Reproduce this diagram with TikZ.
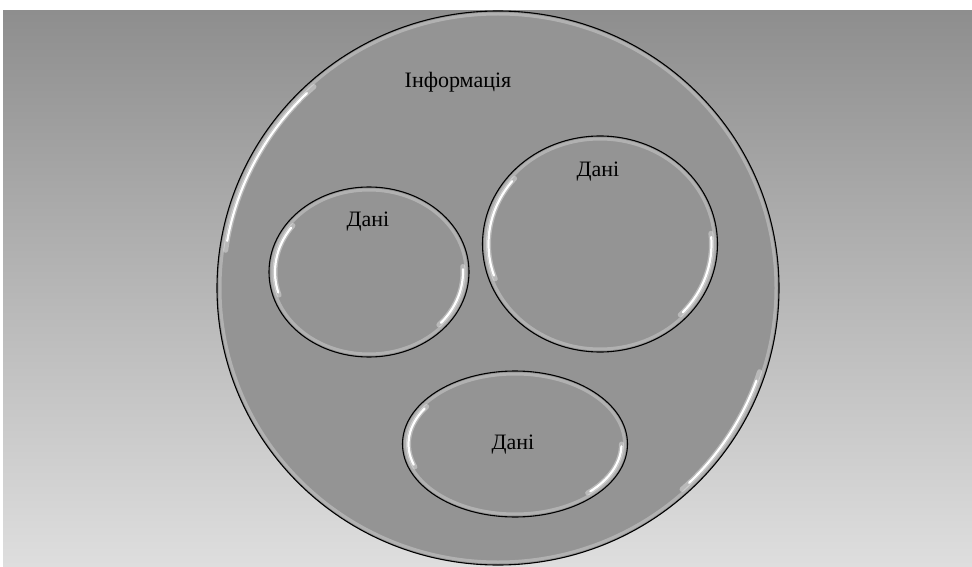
\documentclass[tikz,border=0pt]{standalone}
\usepackage{fontspec}
\setmainfont{Liberation Serif}
\usetikzlibrary{shapes.geometric}
\definecolor{bgtop}{HTML}{8E8E8E}
\definecolor{bgbottom}{HTML}{DEDEDE}
\definecolor{bubblefill}{HTML}{949494}
\definecolor{rimgray}{HTML}{BEBEBE}
\tikzset{
  bubble/.style={ellipse, draw=black, line width=1.1pt, fill=bubblefill, inner sep=0pt},
  rim/.style={draw=rimgray, line width=3pt, opacity=0.7},
  glow/.style={draw=white, line width=5pt, line cap=round, opacity=0.35},
  shine/.style={draw=white, line width=2.2pt, line cap=round},
  caption/.style={font=\fontsize{22}{26}\selectfont, text=black, inner sep=1pt}
}

\begin{document}
\begin{tikzpicture}[x=1pt, y=1pt]
  \useasboundingbox (0,0) rectangle (972,566);
  \fill[white] (0,0) rectangle (972,566);
  \shade[top color=bgtop, bottom color=bgbottom] (3,0) rectangle (972,555);

  % outer bubble
  \node[bubble, minimum width=562pt, minimum height=554pt] (info) at (498,278) {};
  \draw[rim] (info.center) ellipse[x radius=278, y radius=274];
  \draw[glow] (info.center) ++(132:275 and 271) arc[start angle=132, end angle=172, x radius=275, y radius=271];
  \draw[shine] (info.center) ++(134:275 and 271) arc[start angle=134, end angle=170, x radius=275, y radius=271];
  \draw[glow] (info.center) ++(-48:275 and 271) arc[start angle=-48, end angle=-18, x radius=275, y radius=271];
  \draw[shine] (info.center) ++(-46:275 and 271) arc[start angle=-46, end angle=-20, x radius=275, y radius=271];
  \node[caption] (infolbl) at (458,484) {Інформація};

  % inner bubbles
  \node[bubble, minimum width=200pt, minimum height=170pt] (data1) at (369,294) {};
  \draw[rim] (data1.center) ellipse[x radius=97, y radius=82];
  \draw[glow] (data1.center) ++(144:94 and 79) arc[start angle=144, end angle=197, x radius=94, y radius=79];
  \draw[shine] (data1.center) ++(146:94 and 79) arc[start angle=146, end angle=195, x radius=94, y radius=79];
  \draw[glow] (data1.center) ++(-42:94 and 79) arc[start angle=-42, end angle=4, x radius=94, y radius=79];
  \draw[shine] (data1.center) ++(-40:94 and 79) arc[start angle=-40, end angle=2, x radius=94, y radius=79];
  \node[caption] (data1lbl) at (368,344) {Дані};

  \node[bubble, minimum width=235pt, minimum height=216pt] (data2) at (600,322) {};
  \draw[rim] (data2.center) ellipse[x radius=114.5, y radius=105];
  \draw[glow] (data2.center) ++(140:111.5 and 102) arc[start angle=140, end angle=200, x radius=111.5, y radius=102];
  \draw[shine] (data2.center) ++(142:111.5 and 102) arc[start angle=142, end angle=198, x radius=111.5, y radius=102];
  \draw[glow] (data2.center) ++(-44:111.5 and 102) arc[start angle=-44, end angle=6, x radius=111.5, y radius=102];
  \draw[shine] (data2.center) ++(-42:111.5 and 102) arc[start angle=-42, end angle=4, x radius=111.5, y radius=102];
  \node[caption] (data2lbl) at (598,394) {Дані};

  \node[bubble, minimum width=225pt, minimum height=146pt] (data3) at (515,122) {};
  \draw[rim] (data3.center) ellipse[x radius=109.5, y radius=70];
  \draw[glow] (data3.center) ++(146:106.5 and 67) arc[start angle=146, end angle=200, x radius=106.5, y radius=67];
  \draw[shine] (data3.center) ++(148:106.5 and 67) arc[start angle=148, end angle=198, x radius=106.5, y radius=67];
  \draw[glow] (data3.center) ++(-47:106.5 and 67) arc[start angle=-47, end angle=0, x radius=106.5, y radius=67];
  \draw[shine] (data3.center) ++(-45:106.5 and 67) arc[start angle=-45, end angle=-2, x radius=106.5, y radius=67];
  \node[caption] (data3lbl) at (513,121) {Дані};
\end{tikzpicture}
\end{document}
